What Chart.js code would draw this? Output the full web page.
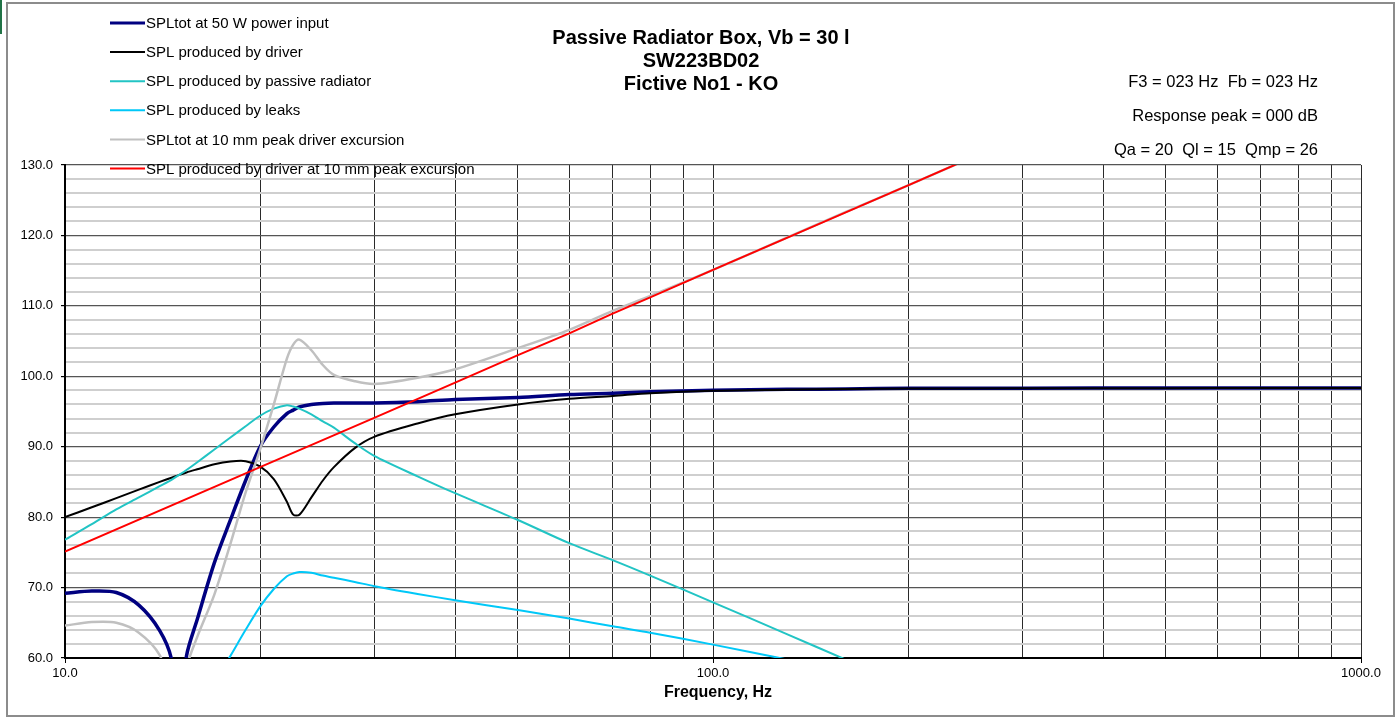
<!DOCTYPE html>
<html>
<head>
<meta charset="utf-8">
<title>Passive Radiator Box</title>
<script src="https://cdn.jsdelivr.net/npm/chart.js@4.4.1/dist/chart.umd.min.js"></script>
<style>
  html, body { margin: 0; padding: 0; background: #fff; }
  #wrap { position: relative; width: 1400px; height: 720px; overflow: hidden; font-family: "Liberation Sans", Arial, sans-serif; }
  #chart { position: absolute; left: 0; top: 0; }
  #frame { position: absolute; left: 6px; top: 2px; width: 1385px; height: 711px; border: 2px solid #8c8c8c; pointer-events: none; }
  #cell { position: absolute; left: 0; top: 0; width: 2px; height: 34px; background: #217346; }
  .title { position: absolute; left: 501px; width: 400px; text-align: center; font-weight: bold; font-size: 20px; line-height: 23px; color: #000; }
  .note { position: absolute; right: 82px; text-align: right; font-size: 16.5px; line-height: 20px; color: #000; white-space: pre; }
</style>
</head>
<body>
<div id="wrap">
  <canvas id="chart" width="1400" height="720"></canvas>
  <div id="frame"></div>
  <div id="cell"></div>
  <div class="title" style="top:26px">Passive Radiator Box, Vb = 30 l<br>SW223BD02<br>Fictive No1 - KO</div>
  <div class="note" style="top:71px">F3 = 023 Hz  Fb = 023 Hz</div>
  <div class="note" style="top:105px">Response peak = 000 dB</div>
  <div class="note" style="top:139px">Qa = 20  Ql = 15  Qmp = 26</div>
</div>
<script>
// Frequency points (Hz) shared by all curves
const freq = [10, 11, 12, 13, 14, 14.6, 15, 15.4, 16, 17, 18, 19, 20, 21, 22, 22.5, 23, 24, 25, 26, 28, 30, 35, 40, 50, 60, 70, 80, 100, 130, 160, 200, 300, 500, 700, 1000]

// SPL values in dB (values under 60 dip below the axis)
const splTot50W = [69.2, 69.5, 69.3, 67.5, 63.9, 59.8, 50, 60.3, 65.5, 73.5, 79.6, 85.2, 90.0, 92.8, 94.7, 95.2, 95.65, 96.0, 96.15, 96.2, 96.2, 96.2, 96.4, 96.7, 97.0, 97.4, 97.6, 97.8, 98.0, 98.15, 98.2, 98.3, 98.3, 98.35, 98.35, 98.35]
const splDriver = [80.0, 81.4, 82.7, 83.9, 85.0, 85.6, 86.0, 86.35, 86.8, 87.5, 87.9, 87.95, 87.2, 85.4, 82.2, 80.35, 80.35, 82.8, 85.2, 87.1, 89.8, 91.4, 93.3, 94.6, 96.0, 96.8, 97.2, 97.6, 97.95, 98.1, 98.2, 98.25, 98.3, 98.3, 98.35, 98.35]
const splPassive = [76.8, 79.0, 81.1, 82.8, 84.4, 85.3, 86.0, 86.7, 87.8, 89.6, 91.3, 92.9, 94.4, 95.4, 95.9, 95.7, 95.4, 94.6, 93.6, 92.7, 90.5, 88.7, 85.8, 83.4, 79.6, 76.3, 73.9, 71.7, 67.9, 63.4, 59.8, null, null, null, null, null]
const splLeaks = [null, null, null, null, null, null, null, null, null, 56.5, 60.3, 64.0, 67.3, 69.8, 71.6, 72.0, 72.2, 72.1, 71.7, 71.4, 70.8, 70.2, 69.1, 68.2, 66.8, 65.6, 64.5, 63.6, 61.9, 59.8, null, null, null, null, null, null]
const splTot10mm = [64.6, 65.1, 65.0, 63.6, 60.4, 55, 50, 58.6, 63.0, 69.0, 76.2, 83.5, 89.6, 96.0, 102.5, 104.5, 105.2, 103.7, 101.6, 100.2, 99.3, 98.9, 99.8, 101.0, 104.0, 106.6, 109.3, 111.4, 115.1, 119.7, 123.3, 127.1, 134.2, null, null, null]
const splDriver10mm = [75.1, null, null, null, null, null, null, null, null, null, null, null, 87.1, null, null, null, null, null, null, null, null, 94.1, null, 99.1, 103.0, 106.1, 108.9, 111.2, 115.1, null, null, 127.1, 134.2, null, null, null]

// Axis ticks
const freqTicks = [10, 20, 30, 40, 50, 60, 70, 80, 90, 100, 200, 300, 400, 500, 600, 700, 800, 900, 1000]
const freqLabels = [10, 100, 1000]
const splTicks = [60, 62, 64, 66, 68, 70, 72, 74, 76, 78, 80, 82, 84, 86, 88, 90, 92, 94, 96, 98, 100, 102, 104, 106, 108, 110, 112, 114, 116, 118, 120, 122, 124, 126, 128, 130]

const FONT = '"Liberation Sans", Arial, sans-serif'

function points(values) {
  return freq.map((f, i) => ({ x: f, y: values[i] }))
}

function series(label, values, color, width, order) {
  return {
    label: label,
    data: points(values),
    borderColor: color,
    backgroundColor: color,
    borderWidth: width,
    pointRadius: 0,
    tension: 0.3,
    spanGaps: false,
    order: order,
  }
}

const red = series("SPL produced by driver at 10 mm peak excursion", splDriver10mm, "#ff0000", 2, 1)
red.tension = 0
red.spanGaps = true

const datasets = [
  series("SPLtot at 50 W power input", splTot50W, "#000080", 3.5, 6),
  series("SPL produced by driver", splDriver, "#000000", 2, 5),
  series("SPL produced by passive radiator", splPassive, "#22c4c4", 2, 4),
  series("SPL produced by leaks", splLeaks, "#00c8f8", 2, 3),
  series("SPLtot at 10 mm peak driver excursion", splTot10mm, "#c0c0c0", 2.5, 2),
  red,
]

// Legend drawn over the top-left of the chart like the original, plus the x axis title
const overlayLegend = {
  id: "overlayLegend",
  afterDraw(chart) {
    const ctx = chart.ctx
    ctx.save()
    ctx.font = "15px " + FONT
    ctx.textBaseline = "middle"
    ctx.textAlign = "left"
    chart.data.datasets.forEach((ds, i) => {
      const y = 23 + i * 29.1
      ctx.strokeStyle = ds.borderColor
      ctx.lineWidth = ds.borderWidth > 3 ? 3 : 2
      ctx.beginPath()
      ctx.moveTo(110, y)
      ctx.lineTo(145, y)
      ctx.stroke()
      ctx.fillStyle = "#000"
      ctx.fillText(ds.label, 146, y + 1)
    })

    ctx.font = "bold 16px " + FONT
    ctx.textAlign = "center"
    ctx.fillText("Frequency, Hz", 718, 693)
    ctx.restore()
  },
}

const isMajorSpl = (v) => v % 10 === 0

new Chart(document.getElementById("chart"), {
  type: "line",
  data: { datasets: datasets },
  plugins: [overlayLegend],
  options: {
    responsive: false,
    animation: false,
    layout: { padding: { left: 0, top: 165, right: 39, bottom: 0 } },
    plugins: {
      legend: { display: false },
      tooltip: { enabled: false },
      title: { display: false },
    },
    scales: {
      x: {
        type: "logarithmic",
        min: 10,
        max: 1000,
        afterBuildTicks: (scale) => {
          scale.ticks = freqTicks.map((v) => ({ value: v }))
        },
        afterFit: (scale) => {
          scale.height = 62
        },
        ticks: {
          autoSkip: false,
          maxRotation: 0,
          padding: 3,
          color: "#000",
          font: { family: FONT, size: 13 },
          callback: (v) => (freqLabels.includes(v) ? v.toFixed(1) : ""),
        },
        grid: {
          color: "#2a2a2a",
          lineWidth: 1,
          tickLength: 5,
          tickColor: (c) => (c.tick && freqLabels.includes(c.tick.value) ? "#000" : "rgba(0,0,0,0)"),
        },
        border: { color: "#000", width: 2 },
      },
      y: {
        min: 60,
        max: 130,
        z: -1,
        afterBuildTicks: (scale) => {
          scale.ticks = splTicks.map((v) => ({ value: v }))
        },
        afterFit: (scale) => {
          scale.width = 65
        },
        ticks: {
          autoSkip: false,
          padding: 8,
          color: "#000",
          font: { family: FONT, size: 13 },
          callback: (v) => (isMajorSpl(v) ? v.toFixed(1) : ""),
        },
        grid: {
          color: (c) => (c.tick && isMajorSpl(c.tick.value) ? "#555" : "#cfcfcf"),
          lineWidth: (c) => (c.tick && isMajorSpl(c.tick.value) ? 1.2 : 2),
          tickLength: 4,
          tickColor: (c) => (c.tick && isMajorSpl(c.tick.value) ? "#000" : "rgba(0,0,0,0)"),
        },
        border: { color: "#000", width: 2 },
      },
    },
  },
})
</script>
</body>
</html>
